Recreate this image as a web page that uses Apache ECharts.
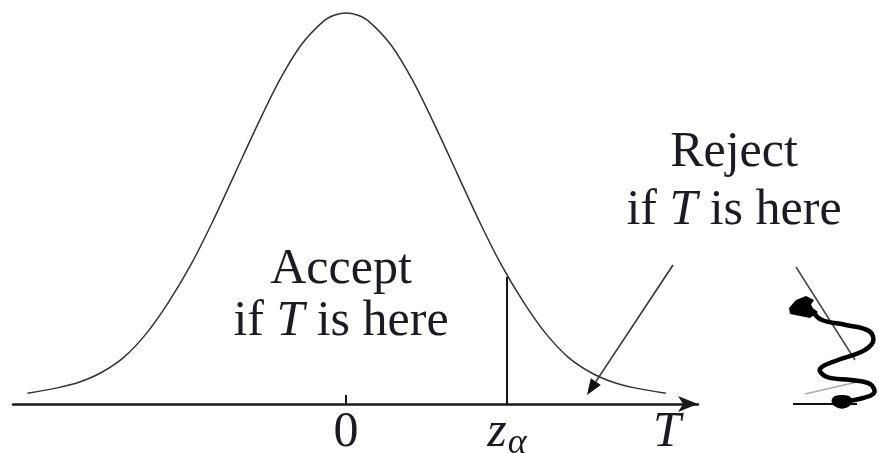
<!DOCTYPE html>
<html>
<head>
<meta charset="utf-8">
<script src="https://cdn.jsdelivr.net/npm/echarts@6/dist/echarts.min.js"></script>
<style>
  html, body { margin: 0; padding: 0; background: #fff; }
  #chart { width: 879px; height: 453px; }
</style>
</head>
<body>
<div id="chart"></div>
<script>
// Density curve of the test statistic T (x in standard units, y = density)
const curveX = [-2.87, -2.6, -2.4, -2.2, -2.0, -1.8, -1.6, -1.4, -1.2, -1.0, -0.8, -0.6, -0.4, -0.2, -0.1,
  0, 0.1, 0.2, 0.4, 0.6, 0.8, 1.0, 1.2, 1.4, 1.6, 1.8, 2.0, 2.2, 2.4, 2.6, 2.88];
const curveY = [0.011, 0.0165, 0.0225, 0.0325, 0.048, 0.072, 0.104, 0.142, 0.187, 0.236, 0.285, 0.331, 0.368, 0.392, 0.398,
  0.400, 0.398, 0.392, 0.368, 0.331, 0.285, 0.236, 0.187, 0.142, 0.104, 0.072, 0.048, 0.0325, 0.0225, 0.0165, 0.011];

// Critical value and the height of the cut line
const zAlpha = 1.45;
const zAlphaTop = 0.13;

// Axis labels
const tickValues = [0, zAlpha, 2.89];
const tickLabels = ['{n|0}', '{z|z}{a|α}', '{t|T}'];

const serif = '"Liberation Serif", "DejaVu Serif", serif';
const ink = '#1b1b24';

const chart = echarts.init(document.getElementById('chart'), null, { renderer: 'canvas' });

function textLine(x, y, text) {
  return {
    type: 'text', x: x, y: y,
    style: {
      text: text,
      fill: ink,
      fontSize: 50,
      fontFamily: serif,
      align: 'center',
      verticalAlign: 'middle',
      rich: { i: { fontStyle: 'italic', fontSize: 50, fontFamily: serif, fill: ink } }
    }
  };
}

// Arrow from the "Reject" note down to the right tail
const arrowFrom = [673, 265], arrowTip = [587, 395];
const dx = arrowTip[0] - arrowFrom[0], dy = arrowTip[1] - arrowFrom[1];
const len = Math.hypot(dx, dy), ux = dx / len, uy = dy / len;
const headLen = 16, headHalf = 6;
const bx = arrowTip[0] - ux * headLen, by = arrowTip[1] - uy * headLen;

chart.setOption({
  animation: false,
  backgroundColor: '#fff',
  grid: { left: 13, right: 181, top: 13, bottom: 49, containLabel: false, outerBoundsMode: 'none' },
  xAxis: {
    type: 'value', min: -3, max: 3.17,
    splitLine: { show: false },
    axisLine: {
      show: true, onZero: false,
      symbol: ['none', 'arrow'], symbolSize: [12, 20],
      lineStyle: { color: '#1a1a1a', width: 2.5 }
    },
    axisTick: {
      show: true, inside: true, length: 9, customValues: [0],
      lineStyle: { color: '#1a1a1a', width: 2 }
    },
    axisLabel: {
      show: true, customValues: tickValues, margin: 4,
      formatter: function (v) {
        const i = tickValues.indexOf(v);
        return i >= 0 ? tickLabels[i] : '';
      },
      rich: {
        n: { fontFamily: serif, fontSize: 50, color: ink, verticalAlign: 'top' },
        z: { fontFamily: serif, fontSize: 50, fontStyle: 'italic', color: ink, verticalAlign: 'top' },
        a: { fontFamily: serif, fontSize: 36, fontStyle: 'italic', color: ink, verticalAlign: 'top', padding: [18, 0, 0, 1] },
        t: { fontFamily: serif, fontSize: 50, fontStyle: 'italic', color: ink, verticalAlign: 'top' }
      }
    }
  },
  yAxis: { type: 'value', min: 0, max: 0.4, show: false },
  series: [
    {
      type: 'line', clip: false, showSymbol: false, smooth: 0.3,
      data: curveX.map((x, i) => [x, curveY[i]]),
      lineStyle: { color: '#333', width: 1.5 }
    },
    {
      type: 'line', clip: false, showSymbol: false,
      data: [[zAlpha, 0], [zAlpha, zAlphaTop]],
      lineStyle: { color: '#111', width: 2 }
    }
  ],
  graphic: [
    textLine(341, 270, 'Accept'),
    textLine(341, 322, 'if {i|T} is here'),
    textLine(734, 153, 'Reject'),
    textLine(734, 211, 'if {i|T} is here'),
    {
      type: 'line',
      shape: { x1: arrowFrom[0], y1: arrowFrom[1], x2: bx, y2: by },
      style: { stroke: '#333', lineWidth: 1.6 }
    },
    {
      type: 'polygon',
      shape: { points: [arrowTip, [bx - uy * headHalf, by + ux * headHalf], [bx + uy * headHalf, by - ux * headHalf]] },
      style: { fill: '#111' }
    },
    // scribbled mark on the right edge
    { type: 'line', shape: { x1: 796, y1: 267, x2: 855, y2: 360 }, style: { stroke: '#444', lineWidth: 1.5 } },
    { type: 'line', shape: { x1: 805, y1: 394, x2: 857, y2: 382 }, style: { stroke: '#aaa', lineWidth: 1.5 } },
    { type: 'line', shape: { x1: 793, y1: 404, x2: 857, y2: 404 }, style: { stroke: '#111', lineWidth: 2 } },
    {
      type: 'polyline',
      shape: {
        smooth: 0.4,
        points: [[795, 308], [806, 302], [812, 311], [822, 320], [846, 325], [869, 331], [873, 342],
          [861, 352], [838, 360], [820, 369], [827, 377], [851, 380], [870, 384], [874, 393], [859, 399], [838, 402]]
      },
      style: { stroke: '#000', lineWidth: 4.5, fill: null, lineJoin: 'round', lineCap: 'round' }
    },
    {
      type: 'polygon',
      shape: { points: [[789, 308], [796, 300], [806, 296], [814, 300], [810, 306], [818, 312], [810, 318], [800, 316], [790, 314]] },
      style: { fill: '#000' }
    },
    {
      type: 'polygon',
      shape: { smooth: 0.5, points: [[832, 399], [842, 395], [852, 399], [848, 407], [836, 407]] },
      style: { fill: '#000' }
    }
  ]
});
</script>
</body>
</html>
